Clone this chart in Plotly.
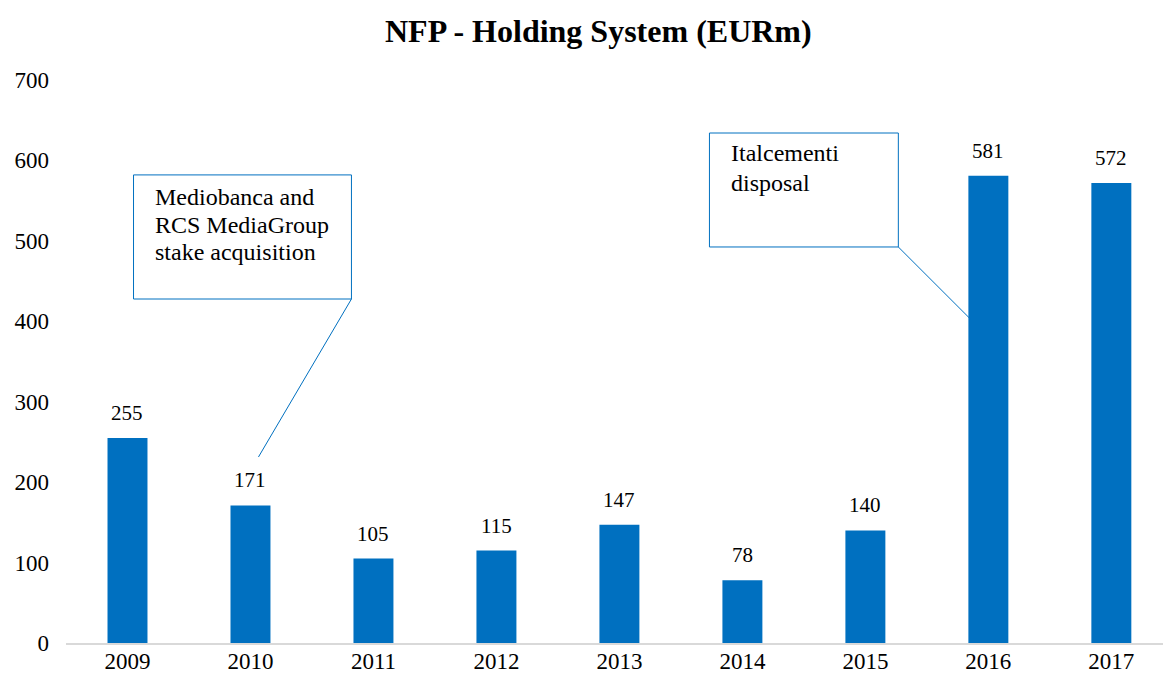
import plotly.graph_objects as go

years = ["2009", "2010", "2011", "2012", "2013", "2014", "2015", "2016", "2017"]
nfp = [255, 171, 105, 115, 147, 78, 140, 581, 572]
y_ticks = [0, 100, 200, 300, 400, 500, 600, 700]

title_text = "NFP - Holding System (EURm)"
callout1_lines = ["Mediobanca and", "RCS MediaGroup", "stake acquisition"]
callout2_lines = ["Italcementi", "disposal"]

BLUE = "#0070C0"
FONT = "Liberation Serif, Times New Roman, serif"

fig = go.Figure()
fig.add_trace(go.Bar(
    x=years, y=nfp,
    marker=dict(color=BLUE, line=dict(width=0)),
    hoverinfo="x+y",
))

# data labels
for i, v in enumerate(nfp):
    fig.add_annotation(x=i, y=v, xref="x", yref="y", text=str(v), showarrow=False,
                       yshift=25, yanchor="middle", xanchor="center",
                       font=dict(family=FONT, size=21, color="#000000"))

# callout 1 (box + leader line + text)
fig.add_shape(type="rect", xref="x", yref="y", x0=0.049, x1=1.821, y0=427.7, y1=582,
              line=dict(color=BLUE, width=1), fillcolor="white", layer="above")
fig.add_shape(type="line", xref="x", yref="y", x0=1.821, y0=427.7, x1=1.065, y1=231.3,
              line=dict(color=BLUE, width=1))
for line, yv in zip(callout1_lines, [554.5, 519.7, 486.1]):
    fig.add_annotation(x=0.211, y=yv, text=line, showarrow=False, xanchor="left",
                       yanchor="middle", font=dict(family=FONT, size=24, color="#000000"))

# callout 2
fig.add_shape(type="rect", xref="x", yref="y", x0=4.732, x1=6.268, y0=492.4, y1=634.1,
              line=dict(color=BLUE, width=1), fillcolor="white", layer="above")
fig.add_shape(type="line", xref="x", yref="y", x0=6.268, y0=492.4, x1=6.854, y1=402.8,
              line=dict(color=BLUE, width=1))
for line, yv in zip(callout2_lines, [609.2, 571.9]):
    fig.add_annotation(x=4.894, y=yv, text=line, showarrow=False, xanchor="left",
                       yanchor="middle", font=dict(family=FONT, size=24, color="#000000"))

# title
fig.add_annotation(x=(598 - 66) / 1097, y=1, xref="paper", yref="paper", yshift=49,
                   text="<b>" + title_text + "</b>", showarrow=False,
                   xanchor="center", yanchor="middle",
                   font=dict(family=FONT, size=32, color="#000000"))

fig.update_layout(
    width=1163, height=675,
    margin=dict(l=66, r=0, t=80, b=32),
    paper_bgcolor="white", plot_bgcolor="white",
    bargap=0.675,
    showlegend=False,
    font=dict(family=FONT, color="#000000"),
    xaxis=dict(type="category", range=[-0.5, 8.42], showline=True,
               linecolor="#D9D9D9", linewidth=1.5, showgrid=False, ticks="",
               tickfont=dict(family=FONT, size=23, color="#000000"),
               ticklabelstandoff=-3, automargin=False),
    yaxis=dict(range=[0, 700], tickvals=y_ticks, showgrid=False, zeroline=False,
               showline=False, ticks="",
               tickfont=dict(family=FONT, size=23, color="#000000"),
               ticklabelstandoff=16, automargin=False),
)

fig.write_html("out.html", config={"displayModeBar": False},
               post_script="document.body.style.margin='0';document.body.style.overflow='hidden';")
